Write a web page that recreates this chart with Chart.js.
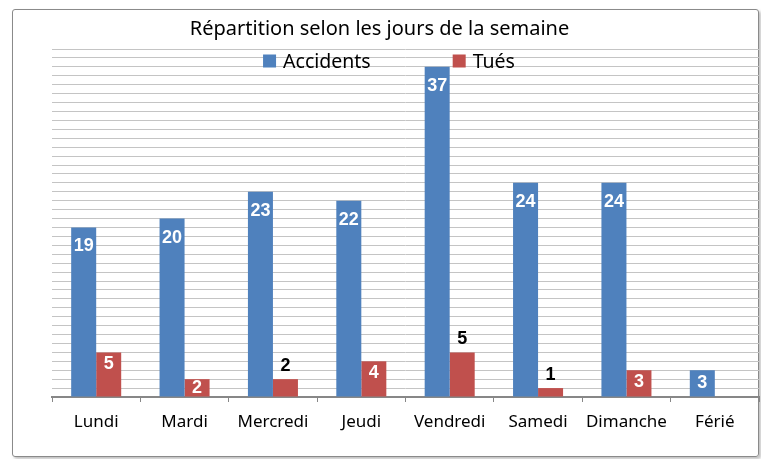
<!DOCTYPE html>
<html>
<head>
<meta charset="utf-8">
<script src="https://cdn.jsdelivr.net/npm/chart.js@4.4.0/dist/chart.umd.min.js"></script>
<style>
  html, body { margin: 0; padding: 0; background: #fff; }
  #wrap { position: relative; width: 761px; height: 459px; overflow: hidden; }
  #frame {
    position: absolute; left: 12px; top: 9px; width: 745px; height: 446px;
    border: 1px solid #8a8a8a; border-radius: 3px;
    box-shadow: 2px 2px 3px rgba(0, 0, 0, 0.25);
  }
  canvas { position: absolute; left: 0; top: 0; }
</style>
</head>
<body>
<div id="wrap">
  <div id="frame"></div>
  <canvas id="chartCanvas" width="761" height="459"></canvas>
</div>
<script>
const days = ['Lundi', 'Mardi', 'Mercredi', 'Jeudi', 'Vendredi', 'Samedi', 'Dimanche', 'Férié'];
const accidents = [19, 20, 23, 22, 37, 24, 24, 3];
const tues = [5, 2, 2, 4, 5, 1, 3, 0];
const yMax = 39;

// Tués labels that sit above the bar in black instead of inside in white
const tuesLabelsAbove = [2, 4, 5];

const FONT = '"Noto Sans", sans-serif';

// value labels, drawn after the bars
const valueLabels = {
  id: 'valueLabels',
  afterDatasetsDraw(chart) {
    const ctx = chart.ctx;
    ctx.save();
    ctx.font = 'bold 18px "Liberation Sans", Arial, sans-serif';
    ctx.textAlign = 'center';
    ctx.textBaseline = 'middle';
    chart.data.datasets.forEach((ds, di) => {
      const meta = chart.getDatasetMeta(di);
      meta.data.forEach((bar, i) => {
        const v = ds.data[i];
        if (!v) return;
        const h = bar.base - bar.y;
        if (di === 1 && tuesLabelsAbove.includes(i)) {
          ctx.fillStyle = '#000';
          ctx.fillText(String(v), bar.x, bar.y - 13);
        } else {
          const off = di === 0 ? 19 : 12;
          ctx.fillStyle = '#fff';
          ctx.fillText(String(v), bar.x, bar.y + Math.min(off, h / 2));
        }
      });
    });
    ctx.restore();
  }
};

// legend drawn inside the plot area like the original
const innerLegend = {
  id: 'innerLegend',
  afterDraw(chart) {
    const ctx = chart.ctx;
    ctx.save();
    ctx.font = '19.5px ' + FONT;
    ctx.textBaseline = 'middle';
    const box = 13, gap = 7, spacing = 82;
    const items = chart.data.datasets.map(ds => ({
      text: ds.label,
      color: ds.backgroundColor,
      w: box + gap + ctx.measureText(ds.label).width
    }));
    const total = items.reduce((s, it) => s + it.w, 0) + spacing * (items.length - 1);
    let x = 389 - total / 2;
    const y = chart.chartArea.top + 12;
    items.forEach(it => {
      ctx.fillStyle = it.color;
      ctx.fillRect(x, y - box / 2, box, box);
      ctx.fillStyle = '#000';
      ctx.fillText(it.text, x + box + gap, y + 1);
      x += it.w + spacing;
    });
    ctx.restore();
  }
};

const ctx = document.getElementById('chartCanvas').getContext('2d');
new Chart(ctx, {
  type: 'bar',
  data: {
    labels: days,
    datasets: [
      {
        label: 'Accidents',
        data: accidents,
        backgroundColor: '#4F81BD',
        categoryPercentage: 0.566,
        barPercentage: 1
      },
      {
        label: 'Tués',
        data: tues,
        backgroundColor: '#C0504D',
        categoryPercentage: 0.566,
        barPercentage: 1
      }
    ]
  },
  options: {
    responsive: false,
    animation: false,
    layout: {padding: {left: 0, right: 2, top: 0, bottom: 0}},
    plugins: {
      legend: {display: false},
      tooltip: {enabled: false},
      title: {
        display: true,
        text: 'Répartition selon les jours de la semaine',
        color: '#000',
        font: {family: FONT, size: 20, weight: 'normal'},
        padding: {top: 17, bottom: 8}
      }
    },
    scales: {
      x: {
        grid: {display: true, drawOnChartArea: false, tickLength: 5, color: '#878787', offset: true},
        border: {color: '#878787', width: 2},
        ticks: {color: '#000', font: {family: FONT, size: 17}, padding: 10},
        afterFit(s) { s.height = 62; }
      },
      y: {
        min: 0,
        max: yMax,
        ticks: {display: false, stepSize: 1},
        grid: {color: '#c4c4c4', drawTicks: false, lineWidth: 1},
        border: {display: false},
        afterFit(s) { s.width = 52; }
      }
    }
  },
  plugins: [valueLabels, innerLegend]
});
</script>
</body>
</html>
